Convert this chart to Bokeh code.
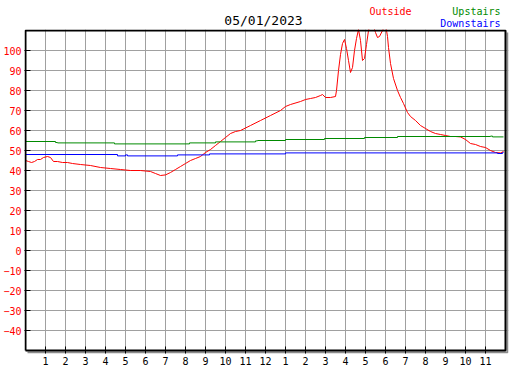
from bokeh.plotting import figure
from bokeh.models import Range1d, FixedTicker, Label
from bokeh.layouts import column
from bokeh.embed import file_html
from bokeh.resources import INLINE

# ---- data (hours since midnight, degrees) ----
out_h = [0, 0.15, 0.3, 0.45, 0.6, 0.75, 0.9, 1.1, 1.25, 1.4, 1.6, 1.85, 2.1, 2.35, 2.75,
         3.25, 3.75, 4.25, 4.75, 5.25, 5.75, 6.25, 6.5, 6.75, 7.0, 7.25, 7.5, 7.75, 8.0,
         8.25, 8.5, 8.75, 9.0, 9.25, 9.5, 9.75, 10.0, 10.25, 10.5, 10.75, 11.25, 11.75,
         12.25, 12.75, 13.0, 13.25, 13.75, 14.0, 14.25, 14.5, 14.75, 14.85, 15.0, 15.25,
         15.5, 15.55, 15.65, 15.75, 15.85, 15.95, 16.05, 16.15, 16.25, 16.35, 16.45,
         16.55, 16.65, 16.75, 16.85, 16.95, 17.05, 17.15, 17.25, 17.4, 17.5, 17.6, 17.7,
         17.85, 18.0, 18.1, 18.15, 18.25, 18.4, 18.6, 18.75, 18.9, 19.1, 19.25, 19.5,
         19.75, 20.0, 20.25, 20.5, 20.75, 21.0, 21.25, 21.5, 21.75, 22.0, 22.25, 22.5,
         22.75, 23.0, 23.25, 23.5, 23.75, 23.9]
out_t = [45, 44.5, 44, 44.5, 45.5, 45.5, 46.5, 47, 46.5, 44.5, 44.5, 44, 44, 43.5, 43,
         42.5, 41.5, 41, 40.5, 40, 40, 39.5, 38.5, 37.5, 37.8, 39, 40.5, 42, 43.5,
         45, 46, 47, 49, 50.5, 52.5, 54.5, 56.5, 58.5, 59.5, 60, 62.5, 65,
         67.5, 70, 72, 73, 74.5, 75.5, 76, 76.5, 77.5, 78, 76.5, 76.5,
         77, 80, 90, 98, 103.5, 105.5, 101, 95, 89, 91.5, 100,
         106, 110.5, 105, 95, 96, 103, 110, 113, 112, 109, 106.5, 107,
         110, 113, 107, 101.5, 93.5, 86, 80, 76.5, 73.5, 69, 67, 65,
         62.5, 61, 59.5, 58.5, 58, 57.5, 57, 57, 56.8, 55.5, 53.5, 53,
         52, 51.5, 50, 49, 48.8, 49.5]

up_h = [0, 1.5, 1.6, 4.45, 8.2, 9.5, 11.5, 11.6, 13.0, 14.95, 16.95, 18.6, 23.25, 23.35, 23.9]
up_t = [54.5, 54.0, 53.8, 53.3, 53.8, 54.3, 54.8, 55.0, 55.5, 56.0, 56.5, 57.0, 57.2, 56.8, 56.8]

dn_h = [0, 4.6, 5.0, 5.1, 7.6, 9.2, 13.0, 23.6, 23.85, 23.9]
dn_t = [48.0, 47.3, 47.8, 47.3, 47.8, 48.3, 48.8, 48.5, 49.0, 49.0]

hour_ticks = list(range(1, 24))
hour_labels = [str(h) for h in range(1, 13)] + [str(h) for h in range(1, 12)]
temp_ticks = list(range(-40, 101, 10))

title_text = "05/01/2023"
series_names = ["Outside", "Upstairs", "Downstairs"]
series_colors = ["#ff0000", "#008a00", "#0000ff"]

FONT = "DejaVu Sans Mono"

# ---- header strip (title + legend texts); its x range matches the main frame's pixels ----
hdr = figure(width=527, height=29, output_backend="svg", toolbar_location=None,
             x_range=Range1d(24, 508), y_range=Range1d(29, 0),
             min_border=0, outline_line_color=None)
hdr.axis.visible = False
hdr.grid.visible = False
hdr.add_layout(Label(x=263, y=20, text=title_text, text_align="center", text_baseline="middle",
                     text_font=FONT, text_font_size="13px", text_color="black"))
hdr.add_layout(Label(x=369, y=11, text=series_names[0], text_align="left", text_baseline="middle",
                     text_font=FONT, text_font_size="10px", text_color=series_colors[0]))
hdr.add_layout(Label(x=500, y=11, text=series_names[1], text_align="right", text_baseline="middle",
                     text_font=FONT, text_font_size="10px", text_color=series_colors[1]))
hdr.add_layout(Label(x=500, y=23, text=series_names[2], text_align="right", text_baseline="middle",
                     text_font=FONT, text_font_size="10px", text_color=series_colors[2]))

# ---- main chart (frame slightly larger than the boxed area to hold the border and its shadow) ----
p = figure(frame_width=484, frame_height=324, output_backend="svg", toolbar_location=None,
           x_range=Range1d(-0.05, 24.15), y_range=Range1d(-51.5, 110.5),
           min_border_top=0, min_border_left=24, min_border_right=19, min_border_bottom=0,
           background_fill_color="white", border_fill_color="white")
p.outline_line_color = None

p.xaxis.ticker = FixedTicker(ticks=hour_ticks)
p.xaxis.major_label_overrides = {h: l for h, l in zip(hour_ticks, hour_labels)}
p.yaxis.ticker = FixedTicker(ticks=temp_ticks)
for ax in (p.xaxis, p.yaxis):
    ax.axis_line_color = None
    ax.major_tick_out = 0
    ax.major_tick_line_color = "black"
    ax.major_tick_line_width = 1
    ax.minor_tick_line_color = None
    ax.major_label_text_font = FONT
    ax.major_label_text_font_size = "10px"
p.yaxis.major_tick_in = 6
p.yaxis.major_label_standoff = 3
p.xaxis.major_tick_in = 7
p.xaxis.major_label_standoff = 3
p.xaxis.major_label_text_color = "black"
p.yaxis.major_label_text_color = "#ff0000"

p.xgrid.ticker = FixedTicker(ticks=hour_ticks)
p.ygrid.ticker = FixedTicker(ticks=temp_ticks)
p.grid.grid_line_color = "#a0a0a0"
p.grid.grid_line_width = 1

p.line(out_h, out_t, line_color=series_colors[0], line_width=1)
p.step(up_h, up_t, mode="after", line_color=series_colors[1], line_width=1)
p.step(dn_h, dn_t, mode="after", line_color=series_colors[2], line_width=1)

# chart box and its drop shadow
x0, x1 = p.x_range.start + 0.05, p.x_range.end - 0.15
y0, y1 = p.y_range.start + 1.5, p.y_range.end - 0.5
p.line([x0 + 0.1, x1 + 0.1, x1 + 0.1], [y0 - 1, y0 - 1, y1 - 1], line_color="#8c8c8c", line_width=2)
p.line([x0, x0, x1, x1, x0], [y0, y1, y1, y0, y0], line_color="black", line_width=2)

layout = column(hdr, p, spacing=0)
open("out.html", "w").write(file_html(layout, INLINE))
